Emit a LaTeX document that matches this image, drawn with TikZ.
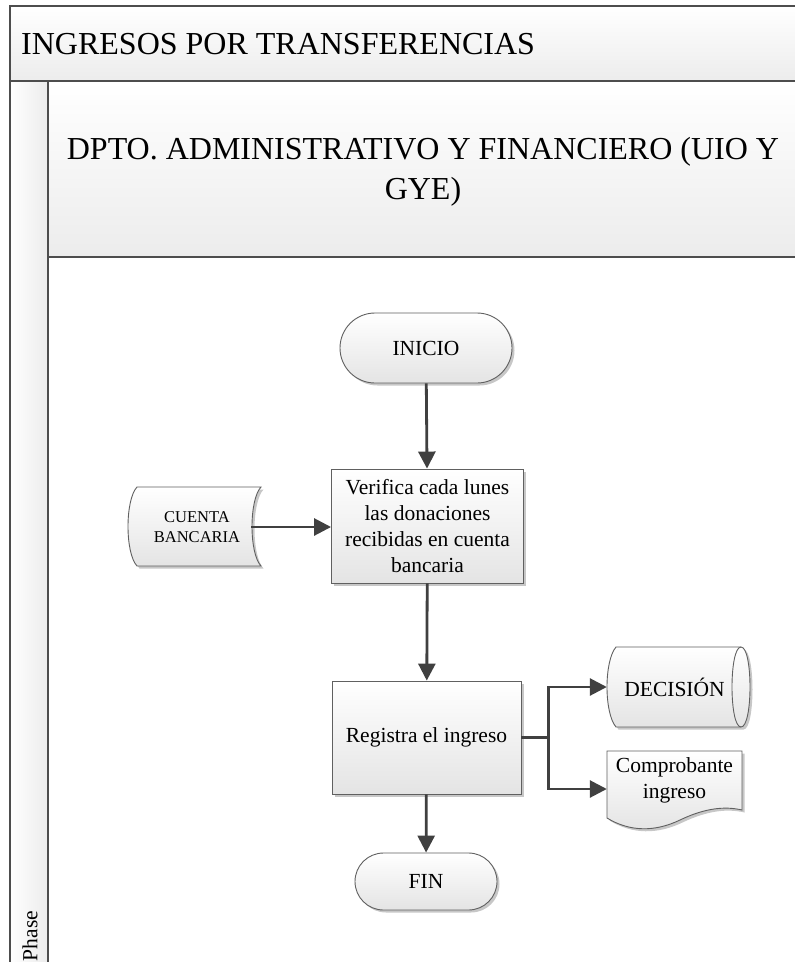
\documentclass[tikz,border=0pt]{standalone}
\usepackage{fontspec}
\setmainfont{Liberation Serif}
\usetikzlibrary{arrows.meta,shadows}
\definecolor{lineC}{HTML}{404040}
\definecolor{frameC}{HTML}{4D4D4D}
\definecolor{boxline}{HTML}{606060}
\definecolor{shadeB}{HTML}{E4E4E4}
\definecolor{laneB}{HTML}{ECECEC}
\tikzset{
  shbox/.style={draw=boxline, line width=0.9pt, top color=white, bottom color=shadeB,
    drop shadow={shadow xshift=2.5pt, shadow yshift=-2.5pt, opacity=0.22, fill=black}},
  nodefont/.style={font=\fontsize{21.5}{26}\selectfont},
  procbox/.style={shbox, rectangle, align=center, inner sep=0pt, nodefont},
  termbox/.style={shbox, rectangle, align=center, inner sep=0pt, nodefont},
  ghost/.style={rectangle, inner sep=0pt, draw=none},
  flow/.style={draw=lineC, line width=2.8pt, -{Triangle[length=17pt,width=17pt]}},
  lanefr/.style={draw=frameC, line width=2pt},
}
\begin{document}
\begin{tikzpicture}[x=1pt,y=-1pt]
\useasboundingbox (0,0) rectangle (795,962);
\begin{scope}
\clip (0,0) rectangle (795,962);
% swimlane frame
\fill[white] (10,6) rectangle (810,975);
\path[lanefr, top color=white, bottom color=laneB] (10,6) rectangle (810,81);
\path[lanefr, left color=white, right color=laneB] (10,81) rectangle (48,975);
\path[lanefr, top color=white, bottom color=laneB] (48,81) rectangle (810,257);
\draw[lanefr] (48,257) rectangle (810,975);
\end{scope}
\node[anchor=base west, inner sep=0pt, font=\fontsize{32}{38}\selectfont] (title) at (21,54) {INGRESOS POR TRANSFERENCIAS};
\node[align=center, inner sep=0pt, font=\fontsize{32}{40}\selectfont] (dept) at (423,172) {DPTO. ADMINISTRATIVO Y FINANCIERO (UIO Y\\GYE)};
\node[rotate=90, inner sep=0pt, nodefont] (phase) at (30,936) {Phase};

% process nodes
\node[termbox, rounded corners=35pt, minimum width=172pt, minimum height=70pt] (inicio) at (426,348) {INICIO};
\node[procbox, minimum width=192pt, minimum height=114pt] (verifica) at (427.5,526) {Verifica cada lunes\\las donaciones\\recibidas en cuenta\\bancaria};
\node[procbox, minimum width=189pt, minimum height=113pt] (registra) at (426.5,737.5) {Registra el ingreso};
\node[termbox, rounded corners=28.5pt, minimum width=142pt, minimum height=57pt] (fin) at (426,881.5) {FIN};

% stored data: CUENTA BANCARIA
\path[shbox] (137,487) -- (261,487) .. controls (249,500) and (249,553) .. (261,566)
  -- (137,566) .. controls (125,553) and (125,500) .. (137,487) -- cycle;
\node[ghost, minimum width=124pt, minimum height=79pt,
  label={[xshift=8pt, align=center, font=\fontsize{16.5}{20}\selectfont]center:CUENTA\\BANCARIA}] (cuenta) at (189,527) {};

% direct access storage: DECISION
\path[shbox] (616,647) -- (741,647) .. controls (753,647) and (753,727) .. (741,727)
  -- (616,727) .. controls (604,713) and (604,661) .. (616,647) -- cycle;
\draw[draw=boxline, line width=0.9pt] (741,647) .. controls (729,647) and (729,727) .. (741,727);
\node[ghost, minimum width=143pt, minimum height=80pt,
  label={[xshift=-4pt, nodefont]center:DECISIÓN}] (decision) at (678.5,687) {};

% document: Comprobante ingreso
\path[shbox] (607,751) -- (742,751) -- (742,810)
  .. controls (725,806) and (705,808) .. (680,820)
  .. controls (655,832) and (630,832) .. (607,818) -- cycle;
\node[ghost, minimum width=135pt, minimum height=76pt,
  label={[yshift=9pt, align=center, nodefont]center:Comprobante\\ingreso}] (comprobante) at (674.5,789) {};

% connectors
\draw[flow] (inicio) -- (verifica);
\draw[flow] (cuenta.east) -- (cuenta.east -| verifica.west);
\draw[flow] (verifica) -- (registra);
\draw[flow] (registra) -- (fin);
\draw[flow] (registra.east) -- ++(27,0) |- (decision.west);
\draw[flow] (registra.east) -- ++(27,0) |- (comprobante.west);
\end{tikzpicture}
\end{document}
